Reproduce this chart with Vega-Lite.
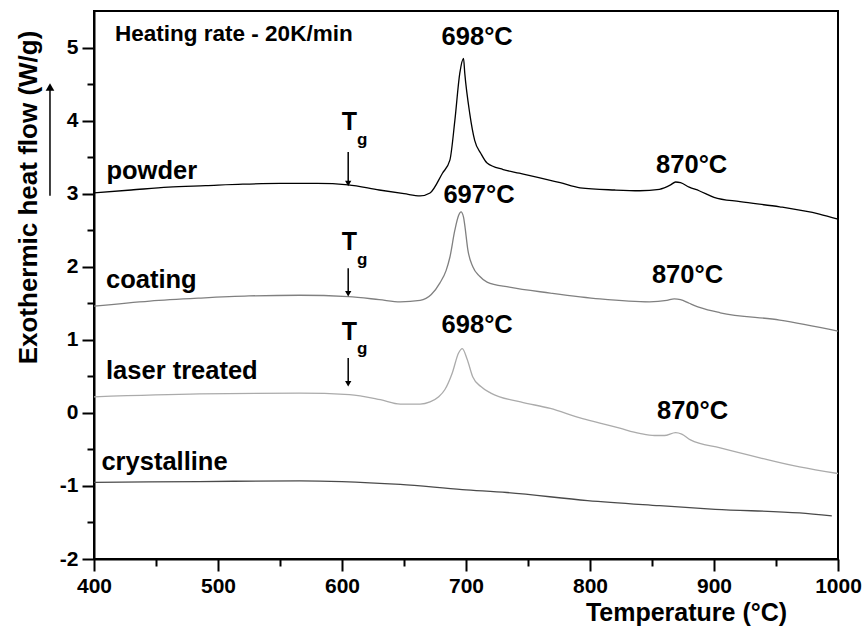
{
  "$schema": "https://vega.github.io/schema/vega-lite/v6.json",
  "width": 744,
  "height": 548,
  "autosize": {"type": "none"},
  "padding": {"left": 94, "top": 11, "right": 26, "bottom": 75},
  "background": "white",
  "config": {"view": {"stroke": "black", "strokeWidth": 2}, "font": "Liberation Sans"},
  "encoding": {
    "x": {"field": "x", "type": "quantitative",
      "scale": {"domain": [400, 1000], "nice": false, "zero": false},
      "axis": {
        "values": [400,450,500,550,600,650,700,750,800,850,900,950,1000],
        "labelExpr": "datum.value % 100 === 0 ? '' + datum.value : ''",
        "tickSize": {"condition": {"test": "datum.value % 100 === 0", "value": 12}, "value": 7},
        "tickColor": "black", "tickWidth": 2, "domainColor": "black", "domainWidth": 2, "grid": false,
        "labelFont": "Liberation Sans", "labelFontWeight": "bold", "labelFontSize": 21, "labelColor": "black",
        "labelPadding": 4, "labelFlush": false, "labelOverlap": false,
        "title": "Temperature (°C)", "titleFont": "Liberation Sans", "titleFontSize": 25, "titleFontWeight": "bold", "titleColor": "black",
        "titleX": 592, "titleY": 61, "titleBaseline": "alphabetic", "titleAlign": "center"
      }},
    "y": {"field": "y", "type": "quantitative",
      "scale": {"domain": [-2, 5.5], "nice": false, "zero": false},
      "axis": {
        "values": [-2,-1.5,-1,-0.5,0,0.5,1,1.5,2,2.5,3,3.5,4,4.5,5],
        "labelExpr": "datum.value % 1 === 0 ? '' + datum.value : ''",
        "tickSize": {"condition": {"test": "datum.value % 1 === 0", "value": 12}, "value": 7},
        "tickColor": "black", "tickWidth": 2, "domainColor": "black", "domainWidth": 2, "grid": false,
        "labelFont": "Liberation Sans", "labelFontWeight": "bold", "labelFontSize": 21, "labelColor": "black",
        "labelPadding": 4, "labelFlush": false, "labelOverlap": false,
        "title": "Exothermic heat flow (W/g)", "titleFont": "Liberation Sans", "titleFontSize": 26, "titleFontWeight": "bold", "titleColor": "black",
        "titleX": -66, "titleY": 186, "titleAngle": 270, "titleBaseline": "middle", "titleAlign": "center"
      }}
  },
  "layer": [
    {
      "data": {"values": [
        {"s":"powder","x":400,"y":3.01},{"s":"powder","x":430,"y":3.05},{"s":"powder","x":460,"y":3.09},{"s":"powder","x":490,"y":3.11},{"s":"powder","x":520,"y":3.13},{"s":"powder","x":550,"y":3.14},{"s":"powder","x":580,"y":3.14},{"s":"powder","x":605,"y":3.12},{"s":"powder","x":630,"y":3.05},{"s":"powder","x":650,"y":3.0},{"s":"powder","x":663,"y":2.97},{"s":"powder","x":671,"y":3.01},{"s":"powder","x":681,"y":3.28},{"s":"powder","x":687,"y":3.46},{"s":"powder","x":691,"y":4.0},{"s":"powder","x":695,"y":4.65},{"s":"powder","x":698,"y":4.85},{"s":"powder","x":699,"y":4.65},{"s":"powder","x":703,"y":4.1},{"s":"powder","x":707,"y":3.73},{"s":"powder","x":712,"y":3.55},{"s":"powder","x":717,"y":3.42},{"s":"powder","x":730,"y":3.33},{"s":"powder","x":743,"y":3.28},{"s":"powder","x":776,"y":3.15},{"s":"powder","x":792,"y":3.08},{"s":"powder","x":820,"y":3.05},{"s":"powder","x":840,"y":3.04},{"s":"powder","x":856,"y":3.06},{"s":"powder","x":865,"y":3.12},{"s":"powder","x":869,"y":3.16},{"s":"powder","x":873,"y":3.15},{"s":"powder","x":880,"y":3.09},{"s":"powder","x":888,"y":3.04},{"s":"powder","x":900,"y":2.95},{"s":"powder","x":921,"y":2.89},{"s":"powder","x":953,"y":2.82},{"s":"powder","x":985,"y":2.72},{"s":"powder","x":1000,"y":2.65},
        {"s":"coating","x":400,"y":1.46},{"s":"coating","x":445,"y":1.53},{"s":"coating","x":485,"y":1.57},{"s":"coating","x":525,"y":1.6},{"s":"coating","x":566,"y":1.61},{"s":"coating","x":605,"y":1.59},{"s":"coating","x":630,"y":1.55},{"s":"coating","x":647,"y":1.52},{"s":"coating","x":663,"y":1.54},{"s":"coating","x":672,"y":1.62},{"s":"coating","x":679,"y":1.78},{"s":"coating","x":684,"y":1.95},{"s":"coating","x":687,"y":2.13},{"s":"coating","x":691,"y":2.5},{"s":"coating","x":694,"y":2.7},{"s":"coating","x":696,"y":2.75},{"s":"coating","x":698,"y":2.68},{"s":"coating","x":699,"y":2.57},{"s":"coating","x":701.5,"y":2.23},{"s":"coating","x":705.5,"y":2.0},{"s":"coating","x":711,"y":1.87},{"s":"coating","x":717,"y":1.79},{"s":"coating","x":735,"y":1.72},{"s":"coating","x":768,"y":1.64},{"s":"coating","x":808,"y":1.56},{"s":"coating","x":848,"y":1.52},{"s":"coating","x":862,"y":1.54},{"s":"coating","x":868,"y":1.56},{"s":"coating","x":873,"y":1.55},{"s":"coating","x":880,"y":1.5},{"s":"coating","x":889,"y":1.44},{"s":"coating","x":905,"y":1.37},{"s":"coating","x":953,"y":1.27},{"s":"coating","x":1000,"y":1.12},
        {"s":"laser","x":400,"y":0.22},{"s":"laser","x":485,"y":0.26},{"s":"laser","x":566,"y":0.27},{"s":"laser","x":606,"y":0.25},{"s":"laser","x":631,"y":0.18},{"s":"laser","x":647,"y":0.12},{"s":"laser","x":663,"y":0.12},{"s":"laser","x":671,"y":0.15},{"s":"laser","x":678,"y":0.22},{"s":"laser","x":683,"y":0.32},{"s":"laser","x":689,"y":0.55},{"s":"laser","x":694,"y":0.82},{"s":"laser","x":697,"y":0.88},{"s":"laser","x":701,"y":0.73},{"s":"laser","x":705.5,"y":0.49},{"s":"laser","x":712,"y":0.36},{"s":"laser","x":720,"y":0.27},{"s":"laser","x":744,"y":0.15},{"s":"laser","x":768,"y":0.06},{"s":"laser","x":792,"y":-0.07},{"s":"laser","x":808,"y":-0.14},{"s":"laser","x":824,"y":-0.21},{"s":"laser","x":840,"y":-0.28},{"s":"laser","x":852,"y":-0.31},{"s":"laser","x":860,"y":-0.31},{"s":"laser","x":869,"y":-0.27},{"s":"laser","x":874,"y":-0.29},{"s":"laser","x":881,"y":-0.37},{"s":"laser","x":905,"y":-0.48},{"s":"laser","x":937,"y":-0.615},{"s":"laser","x":969,"y":-0.74},{"s":"laser","x":1000,"y":-0.83},
        {"s":"crystalline","x":400,"y":-0.95},{"s":"crystalline","x":485,"y":-0.94},{"s":"crystalline","x":566,"y":-0.93},{"s":"crystalline","x":600,"y":-0.94},{"s":"crystalline","x":647,"y":-0.98},{"s":"crystalline","x":697,"y":-1.05},{"s":"crystalline","x":733,"y":-1.09},{"s":"crystalline","x":798,"y":-1.2},{"s":"crystalline","x":856,"y":-1.27},{"s":"crystalline","x":901,"y":-1.32},{"s":"crystalline","x":969,"y":-1.37},{"s":"crystalline","x":995,"y":-1.41}
      ]},
      "mark": {"type": "line", "strokeWidth": 1.3, "interpolate": "monotone"},
      "encoding": {
        "color": {"field": "s", "type": "nominal",
          "scale": {"domain": ["powder","coating","laser","crystalline"], "range": ["#000000","#808080","#ababab","#4a4a4a"]},
          "legend": null}
      }
    },
    {
      "data": {"values": [{"x": 364.5, "y": 2.97, "y2": 4.42}, {"x": 605, "y": 3.57, "y2": 3.17}, {"x": 605, "y": 1.98, "y2": 1.66}, {"x": 605, "y": 0.75, "y2": 0.43}]},
      "mark": {"type": "rule", "color": "black", "strokeWidth": 1.5},
      "encoding": {"y2": {"field": "y2"}}
    },
    {
      "data": {"values": [{"x": 364.5, "y": 4.46}]},
      "mark": {"type": "point", "shape": "triangle-up", "filled": true, "color": "black", "size": 75, "opacity": 1},
      "encoding": {}
    },
    {
      "data": {"values": [{"x": 605, "y": 3.14}, {"x": 605, "y": 1.63}, {"x": 605, "y": 0.40}]},
      "mark": {"type": "point", "shape": "triangle-down", "filled": true, "color": "black", "size": 40, "opacity": 1},
      "encoding": {}
    },
    {
      "data": {"values": [
        {"x": 410, "y": 3.2, "label": "powder"},
        {"x": 409.7, "y": 1.71, "label": "coating"},
        {"x": 409.7, "y": 0.46, "label": "laser treated"},
        {"x": 406, "y": -0.78, "label": "crystalline"}
      ]},
      "mark": {"type": "text", "align": "left", "baseline": "alphabetic", "font": "Liberation Sans", "fontWeight": "bold", "fontSize": 25.5, "color": "black"},
      "encoding": {"text": {"field": "label"}}
    },
    {
      "data": {"values": [
        {"x": 709, "y": 5.03, "label": "698°C"},
        {"x": 710.5, "y": 2.87, "label": "697°C"},
        {"x": 709, "y": 1.09, "label": "698°C"},
        {"x": 882, "y": 3.285, "label": "870°C"},
        {"x": 878.6, "y": 1.773, "label": "870°C"},
        {"x": 882.7, "y": -0.086, "label": "870°C"}
      ]},
      "mark": {"type": "text", "align": "center", "baseline": "alphabetic", "font": "Liberation Sans", "fontWeight": "bold", "fontSize": 25.5, "color": "black"},
      "encoding": {"text": {"field": "label"}}
    },
    {
      "data": {"values": [{"x": 417, "y": 5.09, "label": "Heating rate - 20K/min"}]},
      "mark": {"type": "text", "align": "left", "baseline": "alphabetic", "font": "Liberation Sans", "fontWeight": "bold", "fontSize": 22.5, "color": "black"},
      "encoding": {"text": {"field": "label"}}
    },
    {
      "data": {"values": [{"x": 606, "y": 3.87, "label": "T"}, {"x": 606, "y": 2.23, "label": "T"}, {"x": 606, "y": 1.0, "label": "T"}]},
      "mark": {"type": "text", "align": "center", "baseline": "alphabetic", "font": "Liberation Sans", "fontWeight": "bold", "fontSize": 25, "color": "black"},
      "encoding": {"text": {"field": "label"}}
    },
    {
      "data": {"values": [{"x": 612, "y": 3.66, "label": "g"}, {"x": 612, "y": 2.03, "label": "g"}, {"x": 612, "y": 0.8, "label": "g"}]},
      "mark": {"type": "text", "align": "left", "baseline": "alphabetic", "font": "Liberation Sans", "fontWeight": "bold", "fontSize": 17, "color": "black"},
      "encoding": {"text": {"field": "label"}}
    }
  ]
}
